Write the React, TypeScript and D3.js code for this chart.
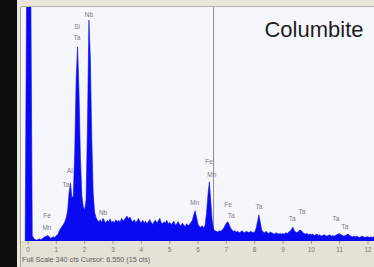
import * as d3 from "d3"

const width = 374
const height = 267

// spectrum, one value per 0.05 keV channel, starting at -0.10 keV
const startEnergy = -0.1
const channelWidth = 0.05
const counts = [
  0, 360, 360, 360, 360, 8, 4, 2, 1, 2, 3, 2, 3, 5, 6, 7, 8, 6, 4, 5, 6, 5,
  8, 9, 14, 18, 21, 24, 28, 34, 44, 70, 84, 62, 66, 130, 235, 282, 215, 120, 66, 50,
  45, 60, 170, 321, 265, 150, 70, 42, 34, 30, 28, 31, 27, 33, 29, 26, 30, 28, 32, 27,
  29, 26, 31, 28, 30, 27, 33, 29, 31, 34, 36, 32, 35, 30, 28, 31, 27, 29, 33, 28,
  27, 30, 26, 29, 25, 28, 31, 27, 24, 28, 30, 26, 29, 33, 27, 25, 28, 26, 30, 25,
  27, 24, 26, 29, 23, 25, 28, 24, 22, 26, 23, 21, 25, 22, 24, 27, 30, 38, 44, 34,
  24, 21, 20, 22, 19, 23, 40, 66, 86, 58, 30, 17, 15, 14, 13, 15, 14, 16, 18, 22,
  26, 28, 24, 19, 16, 14, 15, 13, 14, 12, 13, 15, 13, 12, 14, 13, 12, 14, 13, 12,
  13, 18, 28, 38, 26, 16, 13, 12, 14, 12, 11, 13, 12, 11, 10, 12, 11, 10, 11, 10,
  11, 10, 12, 11, 13, 14, 17, 20, 15, 13, 12, 14, 16, 15, 12, 11, 10, 11, 9, 10,
  9, 10, 8, 9, 10, 8, 9, 7, 8, 9, 8, 7, 8, 9, 7, 8, 7, 8, 9, 10,
  11, 9, 8, 7, 8, 9, 10, 8, 7, 6, 7, 6, 7, 6, 5, 6, 7, 6, 5, 6,
  6, 5, 6, 5, 6, 5, 6,
]

const tickValues = [0, 1, 2, 3, 4, 5, 6, 7, 8, 9, 10, 11, 12]
const fullScale = 340
const cursorEnergy = 6.55
const title = "Columbite"
const footer = "Full Scale 340 cts Cursor: 6.550  (15 cts)"

// element markers: [label, energy keV, count level]
const peakLabels: [string, number, number][] = [
  ["Si", 1.73, 311],
  ["Ta", 1.73, 294],
  ["Nb", 2.15, 328],
  ["Al", 1.48, 102],
  ["Ta", 1.34, 81],
  ["Fe", 0.67, 36],
  ["Mn", 0.67, 19],
  ["Nb", 2.65, 41],
  ["Mn", 5.89, 55],
  ["Fe", 6.39, 115],
  ["Mn", 6.49, 96],
  ["Fe", 7.06, 52],
  ["Ta", 7.17, 36],
  ["Ta", 8.15, 49],
  ["Ta", 9.32, 32],
  ["Ta", 9.67, 42],
  ["Ta", 10.87, 32],
  ["Ta", 11.19, 20],
]

const plotLeft = 21
const plotTop = 7
const plotBottom = 241
const font = "Liberation Sans, Arial, sans-serif"

export default function App() {
  const x = d3.scaleLinear().domain([0, 12]).range([28, 368])
  const y = d3.scaleLinear().domain([0, fullScale]).range([plotBottom, plotTop])

  const points = counts.map((c, i) => [startEnergy + i * channelWidth, c] as [number, number])
  const area = d3
    .area<[number, number]>()
    .x((d) => x(d[0]))
    .y0(plotBottom)
    .y1((d) => y(d[1]))

  return (
    <div style={{ position: "absolute", left: 0, top: 0 }}>
      <svg width={width} height={height} style={{ display: "block" }}>
        <defs>
          <clipPath id="plot">
            <rect x={plotLeft} y={plotTop} width={width - plotLeft} height={plotBottom - plotTop} />
          </clipPath>
        </defs>
        <rect width={width} height={height} fill="#e9e6dc" />
        <rect width={17} height={height} fill="#0e0e0e" />
        <rect x={plotLeft} y={plotTop} width={width - plotLeft} height={plotBottom - plotTop} fill="#f5f7fc" />
        <line x1={plotLeft - 0.5} x2={plotLeft - 0.5} y1={plotTop} y2={height} stroke="#a8a493" />
        <line x1={plotLeft} x2={width} y1={plotTop - 0.5} y2={plotTop - 0.5} stroke="#b8b3a2" />

        <line x1={x(cursorEnergy)} x2={x(cursorEnergy)} y1={plotTop} y2={plotBottom} stroke="#8a8a8a" strokeWidth={1} />

        <path d={area(points) ?? ""} fill="#0a0af2" stroke="#0a0af2" strokeWidth={0.6} clipPath="url(#plot)" />

        <rect x={plotLeft} y={plotBottom} width={width - plotLeft} height={height - plotBottom} fill="#e4e1d6" />
        {tickValues.map((t) => (
          <g key={t}>
            <line x1={x(t)} x2={x(t)} y1={plotBottom} y2={plotBottom + 3} stroke="#9a9a9a" />
            <text x={x(t)} y={252} fontSize={6.5} fill="#7a7a7a" textAnchor="middle" fontFamily={font}>
              {t}
            </text>
          </g>
        ))}
        <text x={22} y={262} fontSize={7.2} fill="#5a5a5a" fontFamily={font}>
          {footer}
        </text>

        {peakLabels.map(([l, e, c], i) => (
          <text
            key={i}
            x={x(e)}
            y={y(c)}
            fontSize={6.5}
            fill="#7c7c7c"
            textAnchor="middle"
            dominantBaseline="middle"
            fontFamily={font}
          >
            {l}
          </text>
        ))}

        <text x={314} y={37} fontSize={22} fill="#1e1e1e" textAnchor="middle" fontFamily={font}>
          {title}
        </text>
      </svg>
    </div>
  )
}
